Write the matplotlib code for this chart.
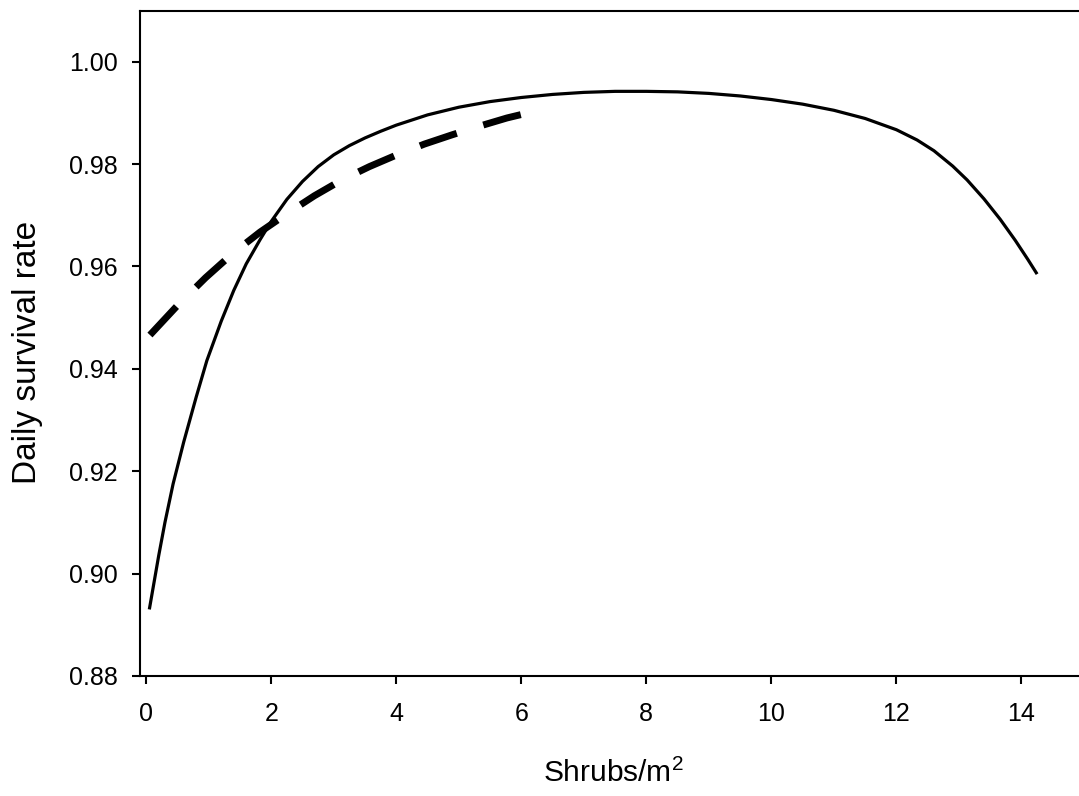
import matplotlib
matplotlib.use("Agg")
import matplotlib.pyplot as plt

# ─── DATA ─────────────────────────────────────────────────
shrubs_solid = [0.05, 0.20, 0.30, 0.43, 0.60, 0.80, 0.97, 1.20, 1.40, 1.60,
                1.82, 2.00, 2.25, 2.50, 2.75, 3.00, 3.25, 3.50, 3.75, 4.00,
                4.50, 5.00, 5.50, 6.00, 6.50, 7.00, 7.50, 8.00, 8.50, 9.00,
                9.50, 10.00, 10.50, 11.00, 11.50, 12.00, 12.33, 12.60, 12.90, 13.13,
                13.40, 13.66, 13.90, 14.10, 14.25]
dsr_solid    = [0.8930, 0.9035, 0.9100, 0.9175, 0.9257, 0.9345, 0.9416, 0.9493, 0.9553, 0.9605,
                0.9652, 0.9688, 0.9731, 0.9766, 0.9795, 0.9818, 0.9836, 0.9851, 0.9864, 0.9876,
                0.9896, 0.9911, 0.9922, 0.9930, 0.9936, 0.9940, 0.9942, 0.9942, 0.9941, 0.9938,
                0.9933, 0.9926, 0.9917, 0.9905, 0.9889, 0.9867, 0.9847, 0.9826, 0.9796, 0.9769,
                0.9732, 0.9692, 0.9651, 0.9614, 0.9585]

shrubs_dash  = [0.06, 0.51, 0.95, 1.39, 1.82, 2.25, 2.69, 3.13, 3.57, 4.01,
                4.45, 4.89, 5.33, 5.77, 6.11]
dsr_dash     = [0.9466, 0.9525, 0.9578, 0.9626, 0.9667, 0.9703, 0.9738, 0.9769, 0.9795,
                0.9818, 0.9839, 0.9857, 0.9874, 0.9890, 0.9900]

x_ticks = [0, 2, 4, 6, 8, 10, 12, 14]
y_ticks = [0.88, 0.90, 0.92, 0.94, 0.96, 0.98, 1.00]

# ─── STYLE ────────────────────────────────────────────────
plt.rcParams["font.family"] = ["Liberation Sans", "DejaVu Sans"]
plt.rcParams["mathtext.fontset"] = "custom"
plt.rcParams["mathtext.rm"] = "Liberation Sans"

fig = plt.figure(figsize=(10.79, 7.96), dpi=100)
ax = fig.add_axes([0.1297, 0.1508, 0.8703, 0.8354])

ax.plot(shrubs_solid, dsr_solid, color="black", lw=2.3, solid_capstyle="butt",
        solid_joinstyle="round")
ax.plot(shrubs_dash, dsr_dash, color="black", lw=5.0,
        linestyle=(0, (5.6, 4.0)), dash_capstyle="butt")

ax.set_xlim(-0.1, 14.92)
ax.set_ylim(0.88, 1.0099)
ax.set_xticks(x_ticks)
ax.set_xticklabels([str(t) for t in x_ticks])
ax.set_yticks(y_ticks)
ax.set_yticklabels([f"{t:.2f}" for t in y_ticks])

for side in ["left", "top", "bottom"]:
    ax.spines[side].set_linewidth(1.5)
ax.spines["right"].set_visible(False)

ax.tick_params(axis="both", direction="out", length=6, width=1.5,
               labelsize=18, colors="black")
ax.tick_params(axis="y", pad=10)
ax.tick_params(axis="x", pad=13)

ax.set_xlabel("Shrubs/m$^2$", fontsize=21.5)
ax.set_ylabel("Daily survival rate", fontsize=24)
ax.xaxis.set_label_coords(0.504, -0.124)
ax.yaxis.set_label_coords(-0.103, 0.486)

plt.savefig("out.png", dpi=100)
